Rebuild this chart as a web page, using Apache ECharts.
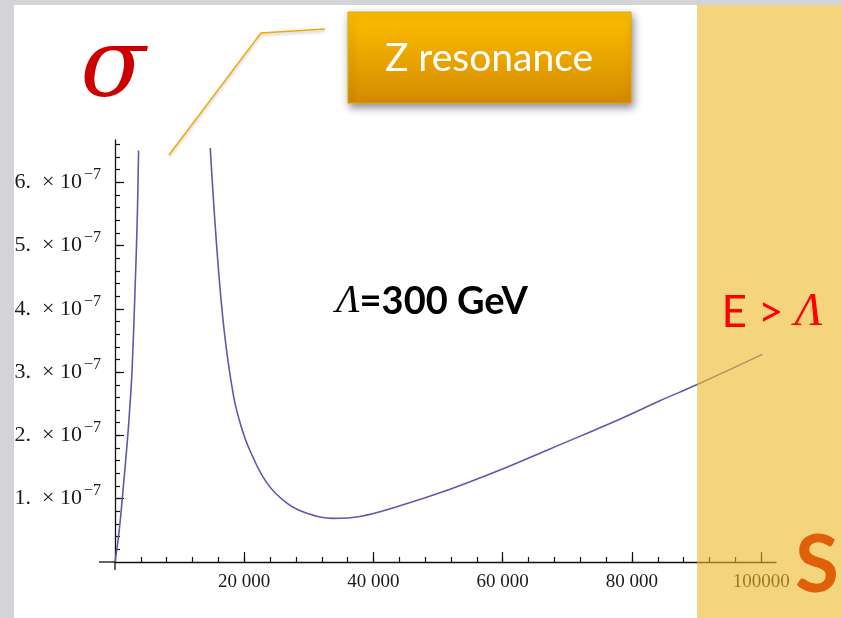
<!DOCTYPE html>
<html>
<head>
<meta charset="utf-8">
<script src="https://cdn.jsdelivr.net/npm/echarts@6/dist/echarts.min.js"></script>
<style>
  html, body { margin: 0; padding: 0; background: #fff; }
  #main { width: 842px; height: 618px; }
</style>
</head>
<body>
<div id="main"></div>
<script>
// cross section vs s (left of and right of the Z peak)
var sLow = [0, 650, 1300, 1900, 2300, 2650, 3150, 3450, 3650];
var sigmaLow = [0, 0.5e-7, 1.2e-7, 1.9e-7, 2.45e-7, 3.05e-7, 4.45e-7, 5.45e-7, 6.5e-7];

var sHigh = [14740, 15780, 16900, 18350, 19500, 20930, 23500, 26600, 29700, 33800,
             37900, 44100, 51860, 60000, 67400, 78200, 84400, 90020, 100170];
var sigmaHigh = [6.54e-7, 4.93e-7, 3.65e-7, 2.62e-7, 2.15e-7, 1.75e-7, 1.25e-7, 0.93e-7, 0.77e-7, 0.69e-7,
                 0.72e-7, 0.89e-7, 1.15e-7, 1.47e-7, 1.79e-7, 2.26e-7, 2.55e-7, 2.8e-7, 3.28e-7];

// axis ticks
var xTickValues = [20000, 40000, 60000, 80000, 100000];
var xTickLabels = ['20 000', '40 000', '60 000', '80 000', '100000'];
var yTickValues = [1e-7, 2e-7, 3e-7, 4e-7, 5e-7, 6e-7];
var yTickLabels = ['1.', '2.', '3.', '4.', '5.', '6.'];

var xMinor = [];
for (var i = 4000; i <= 100000; i += 4000) xMinor.push(i);
var yMinor = [];
for (var j = 1; j <= 33; j++) yMinor.push(j * 2e-8);

function pairs(xs, ys) {
  return xs.map(function (x, k) { return [x, ys[k]]; });
}

function pickLabel(values, labels, v) {
  for (var k = 0; k < values.length; k++) {
    if (Math.abs(values[k] - v) < Math.abs(values[k]) * 1e-6) return labels[k];
  }
  return '';
}

var chart = echarts.init(document.getElementById('main'));

var axisColor = '#111';
var labelFont = '"Liberation Serif", "DejaVu Serif", serif';
var xBase = { type: 'value', min: 0, max: 102290, position: 'bottom', splitLine: { show: false } };
var yBase = { type: 'value', min: 0, max: 6.667e-7, position: 'left', splitLine: { show: false } };
var axisLineStyle = { show: true, onZero: false, lineStyle: { color: axisColor, width: 1.3 } };

var option = {
  animation: false,
  backgroundColor: '#fff',
  grid: { left: 115, right: 66, top: 140, bottom: 56, containLabel: false, outerBoundsMode: 'none' },
  xAxis: [
    Object.assign({}, xBase, {
      axisLine: axisLineStyle,
      axisTick: { show: true, inside: true, length: 5, customValues: xMinor, lineStyle: { color: axisColor, width: 1.2 } },
      axisLabel: { show: false }
    }),
    Object.assign({}, xBase, {
      axisLine: { show: false, onZero: false },
      axisTick: { show: true, inside: true, length: 10, customValues: xTickValues, lineStyle: { color: axisColor, width: 1.2 } },
      axisLabel: {
        show: true, customValues: xTickValues, margin: 11,
        color: '#1a1a1a', fontFamily: labelFont, fontSize: 19,
        formatter: function (v) { return pickLabel(xTickValues, xTickLabels, v); }
      }
    })
  ],
  yAxis: [
    Object.assign({}, yBase, {
      axisLine: axisLineStyle,
      axisTick: { show: true, inside: true, length: 5, customValues: yMinor, lineStyle: { color: axisColor, width: 1.2 } },
      axisLabel: { show: false }
    }),
    Object.assign({}, yBase, {
      axisLine: { show: false, onZero: false },
      axisTick: { show: true, inside: true, length: 9, customValues: yTickValues, lineStyle: { color: axisColor, width: 1.2 } },
      axisLabel: {
        show: true, customValues: yTickValues, margin: 14,
        formatter: function (v) { return '{b|' + pickLabel(yTickValues, yTickLabels, v) + '  \u00d7 10}{s|\u22127}'; },
        rich: {
          b: { fontFamily: labelFont, fontSize: 22, color: '#1a1a1a' },
          s: { fontFamily: labelFont, fontSize: 16, color: '#1a1a1a', padding: [0, 0, 15, 2] }
        }
      }
    })
  ],
  series: [
    {
      type: 'line', xAxisIndex: 0, yAxisIndex: 0, data: pairs(sLow, sigmaLow),
      showSymbol: false, smooth: 0.4, lineStyle: { color: '#5a5aae', width: 1.6 }
    },
    {
      type: 'line', xAxisIndex: 0, yAxisIndex: 0, data: pairs(sHigh, sigmaHigh),
      showSymbol: false, smooth: 0.4, lineStyle: { color: '#5a5aae', width: 1.6 }
    }
  ],
  graphic: [
    // little overhang where the axes cross
    { type: 'line', z: 10, shape: { x1: 99, y1: 562, x2: 115, y2: 562 },
      style: { stroke: axisColor, lineWidth: 1.3 } },
    { type: 'line', z: 10, shape: { x1: 115, y1: 562, x2: 115, y2: 570 },
      style: { stroke: axisColor, lineWidth: 1.3 } },
    // shaded region E > Lambda
    { type: 'rect', z: 50, shape: { x: 697, y: 0, width: 145, height: 618 },
      style: { fill: 'rgba(236,185,40,0.6)' } },
    // slide border
    { type: 'rect', z: 120, shape: { x: 0, y: 0, width: 842, height: 5 }, style: { fill: '#d4d4d6' } },
    { type: 'rect', z: 120, shape: { x: 0, y: 0, width: 14, height: 618 }, style: { fill: '#d4d4d6' } },
    // sigma
    { type: 'text', z: 60, x: 113, y: 71,
      style: { text: '\u03c3', fill: '#cc0000', font: 'italic 96px "DejaVu Serif", serif',
               textAlign: 'center', textVerticalAlign: 'middle' } },
    // callout
    { type: 'polyline', z: 60, shape: { points: [[169, 155], [261, 33], [325, 29]] },
      style: { stroke: '#f2a900', lineWidth: 1.3, fill: null,
               shadowBlur: 3, shadowOffsetY: 2, shadowColor: 'rgba(0,0,0,0.25)' } },
    { type: 'rect', z: 60, shape: { x: 348, y: 12, width: 283, height: 91 },
      style: {
        fill: new echarts.graphic.LinearGradient(0, 0, 0, 1, [
          { offset: 0, color: '#ffc000' }, { offset: 1, color: '#d48a00' }
        ]),
        stroke: '#eba600', lineWidth: 1,
        shadowBlur: 8, shadowOffsetX: 2, shadowOffsetY: 4, shadowColor: 'rgba(0,0,0,0.45)'
      } },
    { type: 'text', z: 61, x: 489, y: 58,
      style: { text: 'Z resonance', fill: '#fff', font: '39px Lato, sans-serif',
               textAlign: 'center', textVerticalAlign: 'middle' } },
    // Lambda = 300 GeV
    { type: 'text', z: 60, x: 432, y: 302,
      style: {
        text: '{l|\u039b}{t|=300 GeV}', textAlign: 'center', textVerticalAlign: 'middle',
        rich: {
          l: { font: 'italic 39px "Liberation Serif", serif', fill: '#000' },
          t: { font: 'bold 38px Lato, sans-serif', fill: '#000' }
        }
      } },
    // E > Lambda
    { type: 'text', z: 80, x: 772, y: 313,
      style: {
        text: '{e|E > }{l|\u039b}', textAlign: 'center', textVerticalAlign: 'middle',
        rich: {
          e: { font: '44px Lato, sans-serif', fill: '#ff0000' },
          l: { font: 'italic 46px "Liberation Serif", serif', fill: '#ff0000' }
        }
      } },
    // s axis name
    { type: 'text', z: 80, x: 817, y: 566,
      style: { text: 'S', fill: '#e0600a', font: 'bold 80px Lato, sans-serif',
               textAlign: 'center', textVerticalAlign: 'middle' } }
  ]
};

chart.setOption(option);
</script>
</body>
</html>
